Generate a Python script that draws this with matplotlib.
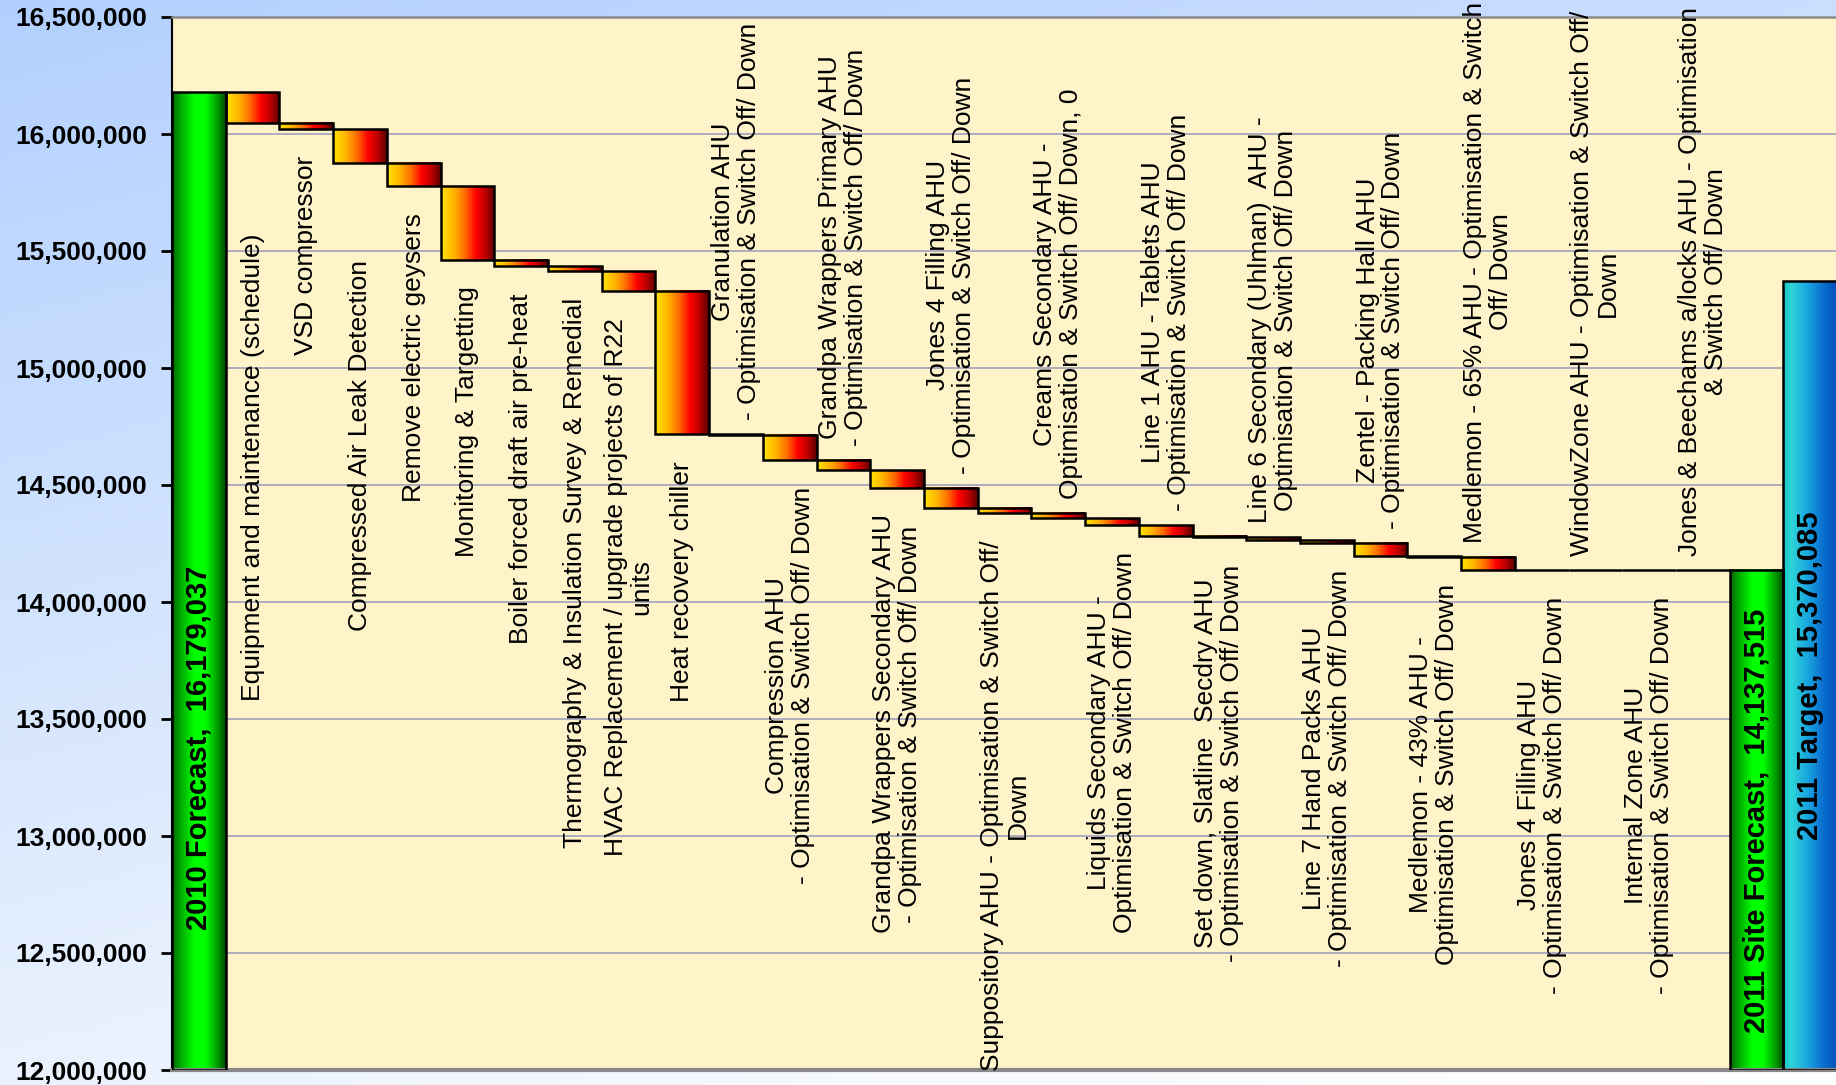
import numpy as np
import matplotlib
matplotlib.use("Agg")
import matplotlib.pyplot as plt
from matplotlib.colors import LinearSegmentedColormap
from matplotlib.ticker import FuncFormatter, MultipleLocator

plt.rcParams['font.family'] = ['Liberation Sans', 'DejaVu Sans']

# ---- data (kWh) ----
start_label = "2010 Forecast"
start_value = 16179037
forecast_label = "2011 Site Forecast"
target_label = "2011 Target"
target_value = 15370085

project_names = [
    "Equipment and maintenance (schedule)",
    "VSD compressor",
    "Compressed Air Leak Detection",
    "Remove electric geysers",
    "Monitoring & Targetting",
    "Boiler forced draft air pre-heat",
    "Thermography & Insulation Survey & Remedial",
    "HVAC Replacement / upgrade projects of R22\nunits",
    "Heat recovery chiller",
    "Granulation AHU\n- Optimisation & Switch Off/ Down",
    "Compression AHU\n- Optimisation & Switch Off/ Down",
    "Grandpa Wrappers Primary AHU\n- Optimisation & Switch Off/ Down",
    "Grandpa Wrappers Secondary AHU\n- Optimisation & Switch Off/ Down",
    "Jones 4 Filling AHU\n- Optimisation & Switch Off/ Down",
    "Suppository AHU - Optimisation & Switch Off/\nDown",
    "Creams Secondary AHU -\nOptimisation & Switch Off/ Down, 0",
    "Liquids Secondary AHU -\nOptimisation & Switch Off/ Down",
    "Line 1 AHU - Tablets AHU\n- Optimisation & Switch Off/ Down",
    "Set down, Slatline  Secdry AHU\n- Optimisation & Switch Off/ Down",
    "Line 6 Secondary (Uhlman)  AHU -\nOptimisation & Switch Off/ Down",
    "Line 7 Hand Packs AHU\n- Optimisation & Switch Off/ Down",
    "Zentel - Packing Hall AHU\n- Optimisation & Switch Off/ Down",
    "Medlemon - 43% AHU -\nOptimisation & Switch Off/ Down",
    "Medlemon - 65% AHU - Optimisation & Switch\nOff/ Down",
    "Jones 4 Filling AHU\n- Optimisation & Switch Off/ Down",
    "WindowZone AHU - Optimisation & Switch Off/\nDown",
    "Internal Zone AHU\n- Optimisation & Switch Off/ Down",
    "Jones & Beechams a/locks AHU - Optimisation\n& Switch Off/ Down",
]

savings = [
    130000, 28000, 144000, 100000, 314000, 28000, 21000, 84000, 612000,
    3000, 108000, 43000, 75000, 86000, 24000, 22000, 28000, 46000,
    7000, 12000, 10000, 57000, 3000, 56522, 0, 0, 0, 0,
]

# waterfall levels
levels = start_value - np.cumsum(savings)
tops = np.concatenate([[start_value], levels[:-1]])
bottoms = levels
forecast_value = int(levels[-1])

y_min, y_max = 12000000, 16500000

# colour ramps, like the Excel gradient fills
green_cmap = LinearSegmentedColormap.from_list(
    "green", [(0, "#006400"), (0.18, "#00B000"), (0.42, "#00FF00"),
              (0.62, "#00FF00"), (0.85, "#009A00"), (1, "#004800")])
step_cmap = LinearSegmentedColormap.from_list(
    "step", [(0, "#FFE600"), (0.25, "#FFB000"), (0.45, "#FF6A00"),
             (0.65, "#FF0000"), (0.82, "#C00000"), (1, "#580000")])
blue_cmap = LinearSegmentedColormap.from_list(
    "blue", [(0, "#18C4C4"), (0.15, "#2ED6D6"), (0.45, "#1AA6E0"),
             (0.75, "#0A6ED0"), (1, "#004EB8")])
ramp = np.linspace(0, 1, 256).reshape(1, -1)


def gradient_bar(ax, x, bottom, top, cmap):
    if top - bottom > 0:
        ax.imshow(ramp, cmap=cmap, extent=(x - 0.5, x + 0.5, bottom, top),
                  aspect='auto', interpolation='bilinear', zorder=2)
    ax.bar(x, top - bottom, bottom=bottom, width=1.0, fill=False,
           edgecolor='black', linewidth=1.8, zorder=3)


fig = plt.figure(figsize=(18.36, 10.85), dpi=100)

# light blue backdrop
bg = fig.add_axes([0, 0, 1, 1], zorder=-10)
yy, xx = np.mgrid[0:1:200j, 0:1:300j]
top_left = np.array([178, 208, 255])
down = np.array([56, 34, -2])
right = np.array([26, 14, 0])
img = top_left + yy[..., None] * down + xx[..., None] * right
bg.imshow(np.clip(img, 0, 255).astype(np.uint8), aspect='auto',
          extent=(0, 1, 0, 1), origin='upper')
bg.set_axis_off()

ax = fig.add_axes([172 / 1836, 15 / 1085, 1 - 172 / 1836, 1053 / 1085])
ax.set_facecolor('#FFF3CA')

n = len(savings)
gradient_bar(ax, 0, y_min, start_value, green_cmap)
for i in range(n):
    gradient_bar(ax, i + 1, bottoms[i], tops[i], step_cmap)
gradient_bar(ax, n + 1, y_min, forecast_value, green_cmap)
gradient_bar(ax, n + 2, y_min, target_value, blue_cmap)

# project labels: first nine below the bars, then alternating above / below
extra_gap = {0: 360000, 2: 300000}
for i, name in enumerate(project_names):
    above = i >= 9 and (i - 9) % 2 == 0
    if above:
        ax.text(i + 1, tops[i] + 60000, name, rotation=90, ha='center',
                va='bottom', fontsize=19, linespacing=1.1,
                multialignment='center', zorder=4, clip_on=False)
    else:
        gap = 115000 + extra_gap.get(i, 0)
        ax.text(i + 1, bottoms[i] - gap, name, rotation=90, ha='center',
                va='top', fontsize=19, linespacing=1.1,
                multialignment='center', zorder=4)

ax.text(0, y_min + 600000, f"{start_label},  {start_value:,}", rotation=90,
        ha='center', va='bottom', fontsize=21, fontweight='bold', zorder=4)
ax.text(n + 1, y_min + 160000, f"{forecast_label},  {forecast_value:,}",
        rotation=90, ha='center', va='bottom', fontsize=21,
        fontweight='bold', zorder=4)
ax.text(n + 2, (y_min + target_value) / 2, f"{target_label},  {target_value:,}",
        rotation=90, ha='center', va='center', fontsize=21,
        fontweight='bold', zorder=4)

ax.set_xlim(-0.5, 30.48)
ax.set_ylim(y_min, y_max)
ax.yaxis.set_major_locator(MultipleLocator(500000))
ax.yaxis.set_major_formatter(FuncFormatter(lambda v, p: f"{v:,.0f}"))
ax.set_xticks([])
ax.tick_params(axis='y', direction='out', length=8, width=2, pad=10,
               labelsize=19)
for lab in ax.get_yticklabels():
    lab.set_fontweight('bold')

ax.set_axisbelow(True)
ax.yaxis.grid(True, color='#A0A0BC', linewidth=1.2)

ax.spines['left'].set_color('black')
ax.spines['left'].set_linewidth(1.5)
ax.spines['top'].set_color('#8C8C8C')
ax.spines['top'].set_linewidth(1.8)
ax.spines['bottom'].set_color('#888888')
ax.spines['bottom'].set_linewidth(3)
ax.spines['right'].set_visible(False)

fig.savefig("out.png", dpi=100)
